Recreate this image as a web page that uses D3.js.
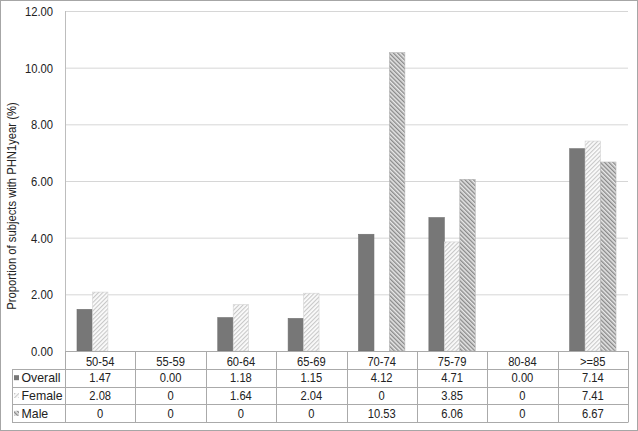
<!DOCTYPE html>
<html>
<head>
<meta charset="utf-8">
<script src="https://cdn.jsdelivr.net/npm/d3@7"></script>
<style>
  body { margin: 0; background: #fff; }
  text { font-family: "Liberation Sans", Arial, sans-serif; fill: #222; }
</style>
</head>
<body>
<script>
const categories = ['50-54', '55-59', '60-64', '65-69', '70-74', '75-79', '80-84', '>=85']
const overall = [1.47, 0.00, 1.18, 1.15, 4.12, 4.71, 0.00, 7.14]
const female = [2.08, 0, 1.64, 2.04, 0, 3.85, 0, 7.41]
const male = [0, 0, 0, 0, 10.53, 6.06, 0, 6.67]
const overallLabels = ['1.47', '0.00', '1.18', '1.15', '4.12', '4.71', '0.00', '7.14']
const femaleLabels = ['2.08', '0', '1.64', '2.04', '0', '3.85', '0', '7.41']
const maleLabels = ['0', '0', '0', '0', '10.53', '6.06', '0', '6.67']
const yTicks = [0, 2, 4, 6, 8, 10, 12]
const seriesNames = ['Overall', 'Female', 'Male']

const W = 638, H = 431
const plotL = 65, plotR = 628, plotT = 11, plotB = 351
const tableLeft = 12
const rowH = 17.8
const fs = 13
const squeeze = 0.86

const svg = d3.select('body').append('svg')
  .attr('width', W)
  .attr('height', H)

// patterns for hatched bars
const defs = svg.append('defs')
const pf = defs.append('pattern')
  .attr('id', 'hatch-female')
  .attr('patternUnits', 'userSpaceOnUse')
  .attr('width', 3).attr('height', 3)
  .attr('patternTransform', 'rotate(45)')
pf.append('rect').attr('width', 3).attr('height', 3).attr('fill', '#fbfbfb')
pf.append('rect').attr('width', 1.1).attr('height', 3).attr('fill', '#c8c8c8')

const pm = defs.append('pattern')
  .attr('id', 'hatch-male')
  .attr('patternUnits', 'userSpaceOnUse')
  .attr('width', 3).attr('height', 3)
  .attr('patternTransform', 'rotate(-45)')
pm.append('rect').attr('width', 3).attr('height', 3).attr('fill', '#e8e8e8')
pm.append('rect').attr('width', 1.4).attr('height', 3).attr('fill', '#8a8a8a')

const fills = ['#777777', 'url(#hatch-female)', 'url(#hatch-male)']
const strokes = ['#6e6e6e', '#d4d4d4', '#b4b4b4']

// outer frame
svg.append('rect')
  .attr('x', 0.5).attr('y', 0.5)
  .attr('width', W - 1).attr('height', H - 1)
  .attr('fill', 'none')
  .attr('stroke', '#a6a6a6')

const x = d3.scaleBand()
  .domain(categories)
  .range([plotL, plotR])
  .paddingInner(0).paddingOuter(0)

const xs = d3.scaleBand()
  .domain(seriesNames)
  .range([12, x.bandwidth() - 12])

const y = d3.scaleLinear()
  .domain([0, 12])
  .range([plotB, plotT])

// gridlines
svg.append('g')
  .selectAll('line')
  .data(yTicks.filter(d => d > 0))
  .enter().append('line')
  .attr('x1', plotL).attr('x2', plotR)
  .attr('y1', d => y(d) + 0.5).attr('y2', d => y(d) + 0.5)
  .attr('stroke', '#d6d6d6')

// left axis line
svg.append('line')
  .attr('x1', plotL + 0.5).attr('x2', plotL + 0.5)
  .attr('y1', plotT).attr('y2', plotB)
  .attr('stroke', '#bdbdbd')

// y tick labels
const yAxis = svg.append('g')
  .attr('transform', `translate(${plotL}, 0)`)
  .call(d3.axisLeft(y).tickValues(yTicks).tickFormat(d3.format('.2f')).tickSize(0).tickPadding(0))
yAxis.select('.domain').remove()
yAxis.selectAll('text').remove()
yAxis.selectAll('.tick').append('text')
  .attr('transform', 'translate(-12, 4.5) scale(0.9, 1)')
  .attr('text-anchor', 'end')
  .attr('font-size', 12.5)
  .attr('font-family', '"Liberation Sans", Arial, sans-serif')
  .attr('fill', '#222')
  .text(d => d3.format('.2f')(d))

// y title
svg.append('text')
  .attr('transform', `translate(16, 206) rotate(-90) scale(0.9, 1)`)
  .attr('text-anchor', 'middle')
  .attr('font-size', 12.5)
  .text('Proportion of subjects with PHN1year (%)')

// bars
const series = [overall, female, male]
const bars = svg.append('g')
series.forEach((vals, si) => {
  bars.selectAll(null)
    .data(vals.map((v, i) => ({ cat: categories[i], v })).filter(d => d.v > 0))
    .enter().append('rect')
    .attr('x', d => x(d.cat) + xs(seriesNames[si]))
    .attr('width', xs.bandwidth())
    .attr('y', d => y(d.v))
    .attr('height', d => y(0) - y(d.v))
    .attr('fill', fills[si])
    .attr('stroke', strokes[si])
    .attr('stroke-width', 0.6)
})

// data table
const tbl = svg.append('g')
const lineColor = '#aaaaaa'
const rows = [overallLabels, femaleLabels, maleLabels]
const tableB = Math.round(plotB + 4 * rowH) + 0.5

// horizontal lines
tbl.append('line')
  .attr('x1', plotL).attr('x2', plotR)
  .attr('y1', plotB + 0.5).attr('y2', plotB + 0.5)
  .attr('stroke', lineColor)
for (let r = 1; r <= 4; r++) {
  const yy = Math.round(plotB + r * rowH) + 0.5
  tbl.append('line')
    .attr('x1', tableLeft).attr('x2', plotR)
    .attr('y1', yy).attr('y2', yy)
    .attr('stroke', lineColor)
}
// vertical lines
categories.concat(['end']).forEach((c, i) => {
  const xx = Math.round(plotL + i * x.bandwidth()) + 0.5
  tbl.append('line')
    .attr('x1', xx).attr('x2', xx)
    .attr('y1', plotB).attr('y2', tableB)
    .attr('stroke', lineColor)
})
tbl.append('line')
  .attr('x1', tableLeft + 0.5).attr('x2', tableLeft + 0.5)
  .attr('y1', Math.round(plotB + rowH)).attr('y2', tableB)
  .attr('stroke', lineColor)

// header labels
tbl.selectAll('text.cat')
  .data(categories)
  .enter().append('text')
  .attr('class', 'cat')
  .attr('transform', d => `translate(${x(d) + x.bandwidth() / 2}, ${plotB + rowH - 3}) scale(${squeeze}, 1)`)
  .attr('text-anchor', 'middle')
  .attr('font-size', fs)
  .text(d => d)

// rows
rows.forEach((labels, r) => {
  const cy = plotB + (r + 1) * rowH + rowH / 2
  tbl.selectAll(null)
    .data(labels)
    .enter().append('text')
    .attr('transform', (d, i) => `translate(${x(categories[i]) + x.bandwidth() / 2}, ${cy + 4.5}) scale(${squeeze}, 1)`)
    .attr('text-anchor', 'middle')
    .attr('font-size', fs)
    .text(d => d)

  // legend key
  tbl.append('rect')
    .attr('x', 14).attr('y', cy - 2.5)
    .attr('width', 5).attr('height', 5)
    .attr('fill', fills[r])

  tbl.append('text')
    .attr('transform', `translate(21.5, ${cy + 4.5}) scale(0.95, 1)`)
    .attr('font-size', fs)
    .text(seriesNames[r])
})
</script>
</body>
</html>
